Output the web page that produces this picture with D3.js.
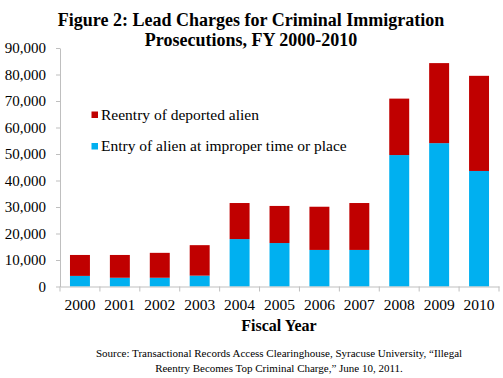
<!DOCTYPE html>
<html><head><meta charset="utf-8">
<script src="https://cdn.jsdelivr.net/npm/d3@7"></script>
<style>body{margin:0;background:#fff;} svg{display:block;} svg text{font-family:'Liberation Serif','Times New Roman',serif;}</style>
</head><body>
<svg id="c" width="503" height="378"></svg>
<script>
const years = ["2000","2001","2002","2003","2004","2005","2006","2007","2008","2009","2010"];
const entryImproper = [4000, 3300, 3300, 4100, 17900, 16400, 13800, 13800, 49600, 54100, 43600];
const reentryDeported = [7900, 8600, 9400, 11500, 13600, 14000, 16300, 17700, 21300, 30200, 35900];
const seriesNames = ["Reentry of deported alien", "Entry of alien at improper time or place"];
const seriesColors = ["#C00000", "#00B0F0"];
const yTicks = [0,10000,20000,30000,40000,50000,60000,70000,80000,90000];

const svg = d3.select("#c");
const font = "'Liberation Serif','Times New Roman',serif";
const m = {l:60};
const x = d3.scaleBand().domain(years).range([m.l, 499]).paddingInner(0).paddingOuter(0);
const y = d3.scaleLinear().domain([0, 90000]).range([286.5, 48]);

function txt(sel){ return sel.style("font-family", font); }

// title
txt(svg.append("text")).attr("x",251).attr("y",26).attr("text-anchor","middle")
  .attr("font-weight","bold").attr("font-size",18)
  .text("Figure 2: Lead Charges for Criminal Immigration");
txt(svg.append("text")).attr("x",251).attr("y",46).attr("text-anchor","middle")
  .attr("font-weight","bold").attr("font-size",18)
  .text("Prosecutions, FY 2000-2010");

// bars
const data = years.map((yr,i)=>({year:yr, entry:entryImproper[i], reentry:reentryDeported[i]}));
const stack = d3.stack().keys(["entry","reentry"])(data);
const colorByKey = {entry: seriesColors[1], reentry: seriesColors[0]};
const bw = x.bandwidth()*0.5;
stack.forEach(layer=>{
  svg.append("g").selectAll("rect").data(layer).join("rect")
    .attr("x", d=>x(d.data.year)+(x.bandwidth()-bw)/2)
    .attr("width", bw)
    .attr("y", d=>y(d[1]))
    .attr("height", d=>y(d[0])-y(d[1]))
    .attr("fill", colorByKey[layer.key]);
});

// y axis
const ya = svg.append("g").attr("transform",`translate(${m.l},0)`)
  .call(d3.axisLeft(y).tickValues(yTicks).tickFormat(d3.format(",")).tickSize(4).tickSizeOuter(0).tickPadding(10));
ya.attr("font-family", null);
ya.select(".domain").attr("stroke","#bfbfbf");
ya.selectAll(".tick line").attr("stroke","#bfbfbf");
txt(ya.selectAll("text")).attr("font-size",15).attr("fill","#000");

// x axis
const xa = svg.append("g").attr("transform",`translate(0,${y(0)})`)
  .call(d3.axisBottom(x).tickSize(0).tickPadding(12));
xa.attr("font-family", null);
xa.select(".domain").attr("stroke","#bfbfbf");
txt(xa.selectAll("text")).attr("font-size",15.5).attr("fill","#000");
const bounds = years.map(yr=>x(yr)).concat([x(years[years.length-1])+x.bandwidth()]);
xa.selectAll(".sep").data(bounds).join("line").attr("class","sep")
  .attr("x1",d=>d).attr("x2",d=>d).attr("y1",0).attr("y2",5).attr("stroke","#bfbfbf");

// axis title
txt(svg.append("text")).attr("x",279).attr("y",331).attr("text-anchor","middle")
  .attr("font-weight","bold").attr("font-size",16)
  .text("Fiscal Year");

// legend
const legY = [119.5, 151];
seriesNames.forEach((n,i)=>{
  svg.append("rect").attr("x",91.5).attr("y",legY[i]-8).attr("width",6.5).attr("height",6.5).attr("fill",seriesColors[i]);
  txt(svg.append("text")).attr("x",101).attr("y",legY[i]).attr("font-size",15.5).text(n);
});

// source
txt(svg.append("text")).attr("x",279).attr("y",357).attr("text-anchor","middle")
  .attr("font-size",11).text("Source: Transactional Records Access Clearinghouse, Syracuse University, \u201cIllegal");
txt(svg.append("text")).attr("x",279).attr("y",372).attr("text-anchor","middle")
  .attr("font-size",11).text("Reentry Becomes Top Criminal Charge,\u201d June 10, 2011.");
</script>
</body></html>
